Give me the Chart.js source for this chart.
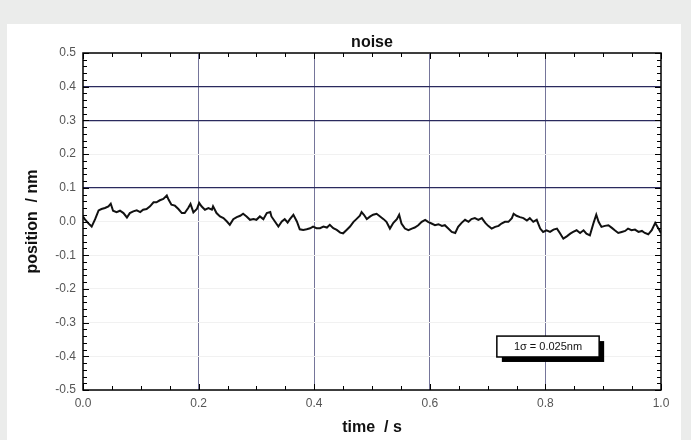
<!DOCTYPE html>
<html>
<head>
<meta charset="utf-8">
<script src="https://cdn.jsdelivr.net/npm/chart.js@4.4.1/dist/chart.umd.min.js"></script>
<style>
  html, body { margin: 0; padding: 0; background: #ebeceb; }
  #panel { position: absolute; left: 7px; top: 24px; width: 674px; height: 416px; background: #fff; }
</style>
</head>
<body>
<div id="panel"><canvas id="noise_canvas"></canvas></div>
<script>
// values
var time_s = [
  0.000, 0.003, 0.009, 0.015, 0.021, 0.027, 0.032, 0.038, 0.044, 0.048,
  0.052, 0.058, 0.064, 0.070, 0.076, 0.081, 0.087, 0.093, 0.099, 0.104,
  0.110, 0.116, 0.122, 0.127, 0.133, 0.139, 0.145, 0.148, 0.153, 0.159,
  0.165, 0.171, 0.176, 0.182, 0.186, 0.191, 0.197, 0.201, 0.205, 0.211,
  0.217, 0.223, 0.225, 0.231, 0.237, 0.243, 0.249, 0.254, 0.260, 0.266,
  0.272, 0.277, 0.283, 0.289, 0.295, 0.300, 0.306, 0.312, 0.318, 0.324,
  0.326, 0.332, 0.338, 0.344, 0.349, 0.354, 0.358, 0.364, 0.370, 0.375,
  0.381, 0.387, 0.393, 0.398, 0.404, 0.410, 0.416, 0.422, 0.427, 0.433,
  0.439, 0.445, 0.450, 0.456, 0.462,
  0.468, 0.473, 0.479, 0.482, 0.486, 0.491, 0.497, 0.502, 0.508, 0.514,
  0.520, 0.525, 0.531, 0.537, 0.543, 0.547, 0.551, 0.557, 0.563, 0.569,
  0.574, 0.580, 0.586, 0.592, 0.597, 0.603, 0.609, 0.615, 0.621, 0.626,
  0.632, 0.638, 0.644, 0.649, 0.655, 0.661, 0.667, 0.672, 0.678, 0.684,
  0.690, 0.696, 0.701, 0.707, 0.713, 0.719, 0.724, 0.730, 0.736, 0.742,
  0.745, 0.750, 0.756, 0.762, 0.768, 0.773, 0.779, 0.785, 0.791, 0.796,
  0.802, 0.808, 0.814, 0.820, 0.825, 0.831, 0.837, 0.843, 0.848, 0.854,
  0.860, 0.866, 0.871, 0.877, 0.883, 0.888, 0.892, 0.897, 0.903, 0.909,
  0.915, 0.920, 0.926, 0.932, 0.938, 0.943, 0.949, 0.955, 0.961, 0.967,
  0.972, 0.978, 0.984, 0.990, 0.994, 1.000
];
var position_nm = [
  0.015, 0.007, -0.005, -0.015, 0.007, 0.033, 0.037, 0.040, 0.045, 0.053,
  0.032, 0.028, 0.032, 0.025, 0.012, 0.025, 0.030, 0.033, 0.028, 0.035,
  0.037, 0.045, 0.057, 0.057, 0.063, 0.067, 0.077, 0.065, 0.050, 0.047,
  0.037, 0.025, 0.025, 0.040, 0.052, 0.027, 0.037, 0.055, 0.045, 0.035,
  0.040, 0.035, 0.045, 0.025, 0.015, 0.010, 0.000, -0.010, 0.007, 0.013,
  0.017, 0.023, 0.015, 0.005, 0.007, 0.005, 0.015, 0.007, 0.025, 0.028,
  0.015, 0.000, -0.015, 0.000, 0.007, -0.003, 0.007, 0.020, 0.000, -0.023,
  -0.025, -0.023, -0.020, -0.015, -0.020, -0.020, -0.015, -0.018, -0.010, -0.020,
  -0.025, -0.033, -0.035, -0.025, -0.015,
  -0.001, 0.007, 0.017, 0.028, 0.020, 0.007, 0.015, 0.020, 0.023, 0.015,
  0.007, -0.001, -0.021, -0.004, 0.007, 0.020, -0.006, -0.021, -0.026, -0.021,
  -0.018, -0.011, -0.001, 0.005, -0.001, -0.006, -0.011, -0.008, -0.013, -0.011,
  -0.021, -0.031, -0.034, -0.016, -0.004, 0.005, -0.001, 0.007, 0.010, 0.005,
  0.010, -0.004, -0.013, -0.021, -0.016, -0.013, -0.006, -0.001, -0.001, 0.010,
  0.023, 0.017, 0.013, 0.010, 0.003, 0.010, -0.001, 0.005, -0.021, -0.031,
  -0.026, -0.031, -0.024, -0.021, -0.034, -0.051, -0.044, -0.036, -0.031, -0.026,
  -0.034, -0.026, -0.036, -0.041, -0.006, 0.020, -0.001, -0.016, -0.013, -0.011,
  -0.019, -0.026, -0.034, -0.031, -0.028, -0.021, -0.026, -0.024, -0.031, -0.028,
  -0.034, -0.038, -0.026, -0.004, -0.016, -0.034
];
var x_range = [0, 1];
var y_range = [-0.5, 0.5];
var dark_y_lines = [0.4, 0.3, 0.1];
var note_text = '1\u03c3 = 0.025nm';

var points = [];
for (var i = 0; i < time_s.length; i++) {
    points.push({ x: time_s[i], y: position_nm[i] });
}

Chart.defaults.font.family = "'Liberation Sans', Arial, sans-serif";

// frame with inward ticks + the sigma box
var framePlugin = {
    id: 'frame',
    afterDraw: function (chart) {
        var ctx = chart.ctx;
        var sx = chart.scales.x, sy = chart.scales.y;
        var a = chart.chartArea;
        ctx.save();
        ctx.strokeStyle = '#000';
        ctx.lineWidth = 1;
        ctx.beginPath();
        for (var i = 0; i <= 50; i++) {
            var py = Math.round(sy.getPixelForValue(-0.5 + i * 0.02)) + 0.5;
            var len = (i % 5 == 0) ? 6 : 4;
            ctx.moveTo(a.left, py); ctx.lineTo(a.left + len, py);
            ctx.moveTo(a.right, py); ctx.lineTo(a.right - len, py);
        }
        for (var j = 0; j <= 20; j++) {
            var px = Math.round(sx.getPixelForValue(j * 0.05)) + 0.5;
            var l2 = (j % 4 == 0) ? 6 : 4;
            ctx.moveTo(px, a.top); ctx.lineTo(px, a.top + l2);
            ctx.moveTo(px, a.bottom); ctx.lineTo(px, a.bottom - l2);
        }
        ctx.stroke();
        ctx.lineWidth = 1.5;
        ctx.strokeRect(a.left, a.top, a.right - a.left, a.bottom - a.top);

        var o = chart.options.plugins.frame;
        var bx0 = sx.getPixelForValue(o.box[0]), bx1 = sx.getPixelForValue(o.box[1]);
        var by0 = sy.getPixelForValue(o.box[2]), by1 = sy.getPixelForValue(o.box[3]);
        ctx.fillStyle = '#000';
        ctx.fillRect(bx0 + 5, by0 + 5, bx1 - bx0, by1 - by0);
        ctx.fillStyle = '#fff';
        ctx.fillRect(bx0, by0, bx1 - bx0, by1 - by0);
        ctx.strokeRect(bx0, by0, bx1 - bx0, by1 - by0);
        ctx.fillStyle = '#111';
        ctx.font = "11px 'Liberation Sans', Arial, sans-serif";
        ctx.textAlign = 'center';
        ctx.textBaseline = 'middle';
        ctx.fillText(note_text, (bx0 + bx1) / 2, (by0 + by1) / 2 + 0.5);
        ctx.restore();
    }
};

var noise_canvas = document.getElementById('noise_canvas');
var noiseChart = new Chart(noise_canvas.getContext('2d'), {
    type: 'line',
    data: {
        datasets: [{
            label: 'noise',
            data: points,
            borderColor: '#111',
            borderWidth: 2,
            pointRadius: 0,
            tension: 0,
            fill: false
        }]
    },
    options: {
        responsive: true,
        maintainAspectRatio: false,
        animation: false,
        layout: { padding: { left: 0, right: 20, top: 0, bottom: 0 } },
        plugins: {
            legend: { display: false },
            tooltip: { enabled: false },
            title: {
                display: true,
                text: 'noise',
                fullSize: false,
                color: '#111',
                font: { size: 16, weight: 'bold' },
                padding: { top: 9, bottom: 0.8 }
            },
            frame: { box: [0.716, 0.893, -0.340, -0.402] }
        },
        scales: {
            x: {
                type: 'linear',
                min: x_range[0],
                max: x_range[1],
                afterFit: function (s) { s.height = 50; },
                ticks: {
                    stepSize: 0.2,
                    padding: 6,
                    color: '#555',
                    font: { size: 12 },
                    callback: function (v) { return v.toFixed(1); }
                },
                grid: {
                    drawTicks: false,
                    color: function (c) {
                        var v = Math.round(c.tick.value * 10);
                        return (v == 0 || v == 10) ? 'rgba(0,0,0,0)' : '#75759a';
                    }
                },
                border: { display: false },
                title: {
                    display: true,
                    text: 'time  / s',
                    color: '#111',
                    font: { size: 16, weight: 'bold' },
                    padding: { top: 0, bottom: 2.4 }
                }
            },
            y: {
                min: y_range[0],
                max: y_range[1],
                afterFit: function (s) { s.width = 76; },
                ticks: {
                    stepSize: 0.1,
                    padding: 7,
                    color: '#555',
                    font: { size: 12 },
                    callback: function (v) { return v.toFixed(1); }
                },
                grid: {
                    drawTicks: false,
                    lineWidth: function (c) {
                        var v = Math.round(c.tick.value * 10) / 10;
                        return dark_y_lines.indexOf(v) >= 0 ? 1.2 : 1;
                    },
                    color: function (c) {
                        var v = Math.round(c.tick.value * 10) / 10;
                        if (dark_y_lines.indexOf(v) >= 0) return '#2a2a5e';
                        return '#f1f1f1';
                    }
                },
                border: { display: false },
                title: {
                    display: true,
                    text: 'position  / nm',
                    color: '#111',
                    font: { size: 16, weight: 'bold' },
                    padding: { top: 16.4, bottom: 0 }
                }
            }
        }
    },
    plugins: [framePlugin]
});
</script>
</body>
</html>
